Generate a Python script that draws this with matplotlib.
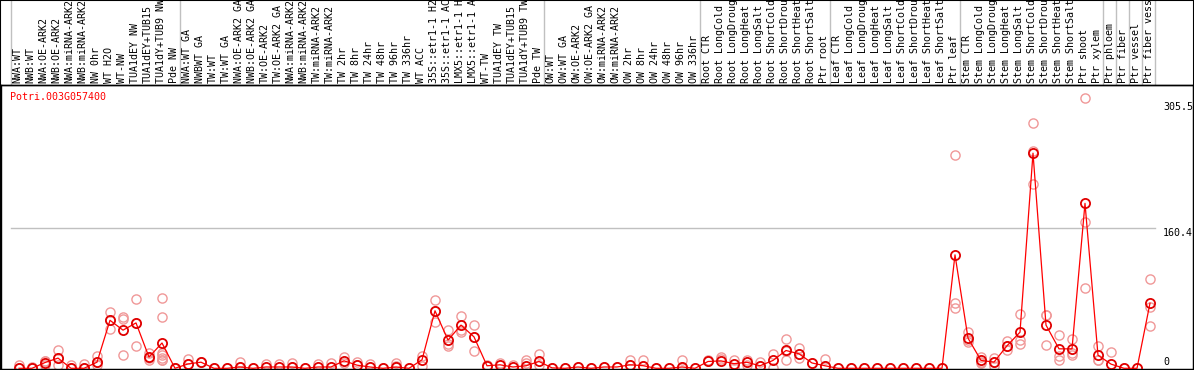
import matplotlib
matplotlib.use("Agg")
import matplotlib.pyplot as plt
import matplotlib.transforms as mtransforms
from matplotlib.lines import Line2D
from matplotlib.patches import Rectangle

gene = "Potri.003G057400"

categories = [
    "NWA:WT", "NWB:WT", "NWA:OE-ARK2", "NWB:OE-ARK2", "NWA:miRNA-ARK2", "NWB:miRNA-ARK2",
    "NW 0hr", "WT H2O", "WT-NW", "TUA1dEY NW", "TUA1dEY+TUB15", "TUA1dY+TUB9 NW", "Pde NW",
    "NWA:WT GA", "NWBWT GA", "TW:WT", "TW:WT GA", "NWA:OE-ARK2 GA", "NWB:OE-ARK2 GA",
    "TW:OE-ARK2", "TW:OE-ARK2 GA", "NWA:miRNA-ARK2", "NWB:miRNA-ARK2", "TW:miRNA-ARK2",
    "TW:miRNA-ARK2", "TW 2hr", "TW 8hr", "TW 24hr", "TW 48hr", "TW 96hr", "TW 336hr",
    "WT ACC", "35S::etr1-1 H2", "35S::etr1-1 AC", "LMX5::etr1-1 H", "LMX5::etr1-1 A",
    "WT-TW", "TUA1dEY TW", "TUA1dEY+TUB15", "TUA1dY+TUB9 TW", "Pde TW",
    "OW:WT", "OW:WT GA", "OW:OE-ARK2", "OW:OE-ARK2 GA", "OW:miRNA-ARK2", "OW:miRNA-ARK2",
    "OW 2hr", "OW 8hr", "OW 24hr", "OW 48hr", "OW 96hr", "OW 336hr",
    "Root CTR", "Root LongCold", "Root LongDroug", "Root LongHeat", "Root LongSalt",
    "Root ShortCold", "Root ShortDrou", "Root ShortHeat", "Root ShortSalt", "Ptr root",
    "Leaf CTR", "Leaf LongCold", "Leaf LongDroug", "Leaf LongHeat", "Leaf LongSalt",
    "Leaf ShortCold", "Leaf ShortDrou", "Leaf ShortHeat", "Leaf ShortSalt", "Ptr leaf",
    "Stem CTR", "Stem LongCold", "Stem LongDroug", "Stem LongHeat", "Stem LongSalt",
    "Stem ShortCold", "Stem ShortDrou", "Stem ShortHeat", "Stem ShortSalt", "Ptr shoot",
    "Ptr xylem", "Ptr phloem", "Ptr fiber", "Ptr vessel", "Ptr fiber vess",
]

# sizes of the sample groups (separated by grey lines)
group_sizes = [13, 28, 12, 10, 10, 11, 1, 1, 1, 1]

means = [
    0, 0, 6.6, 11.7, 0, 0, 7, 55, 43.7, 52, 12.8, 29, 0,
    5, 7, 0, 0, 1.5, 0, 1.5, 1.5, 1.5, 0, 1.5, 1.5, 8.6, 3.6, 1.5, 0, 1.5, 0,
    9.7, 65.9, 32.3, 49.5, 36, 2.9, 4, 1.5, 2.9, 7.8,
    0.5, 0, 1.5, 0, 1.5, 1.5, 4, 3, 0, 0, 1.5, 0,
    7.8, 8.5, 5.3, 6.9, 2.9, 9, 20.4, 16.6, 6.1, 2.9,
    0, 0, 0, 0, 0, 0, 0, 0, 0, 130,
    34.6, 9, 7.1, 25.8, 41.4, 246.5, 49.5, 22.3, 22.3, 189, 15,
    4.8, 0, 0, 74.6,
]

replicates = [
    [4, 0], [1, 0], [7.8, 4, 8], [21, 4, 12], [4, 0], [4.5, 0], [14, 7, 4],
    [64, 44.5, 55], [59, 57, 15], [79.6, 25.8, 52], [18, 9.7, 12],
    [80.4, 59, 18, 15, 12, 10, 9], [0, 0],
    [11, 5], [7, 7], [0], [0], [6.9, 1.5], [0], [4.5], [4.5], [6, 1.5], [0],
    [4.6], [6], [13.5, 6], [7, 3.6], [4.5], [0], [6, 2.9], [0],
    [14, 2.9], [78.5, 53, 66], [44, 28, 26], [60, 44, 42], [49.8, 20, 36],
    [4], [6], [4], [9.7, 6], [16.6, 4],
    [0], [0], [1.5], [0], [1.5], [1.5], [9, 4], [9.7, 3], [0], [0], [9, 1.5], [0],
    [9, 7.8], [12.8, 10.5], [9.7, 0.5], [9, 4], [6.9, 2.9], [16.6, 0],
    [33.4, 9.7, 20], [23, 12, 16], [6.1], [10.5, 2.9],
    [0], [0], [0], [0], [0], [0], [0], [0], [0], [244, 75, 69],
    [41.8, 32, 30], [13.5, 7.5, 6], [11.7, 6.7, 2.9], [31.5, 25.5, 20.4],
    [62, 32.6, 28], [280.8, 249, 211], [61, 61, 26.5], [38, 14.3, 9.7],
    [33.4, 18, 15.5], [309.5, 168, 91.8], [25.8, 9.7, 9.5],
    [18.9], [0], [0], [102, 47.9, 70.8],
]

y_ticks = [0, 160.4, 305.5]
y_gridlines = [160.4]

# ---------------------------------------------------------------- figure
W, H = 1194, 370
fig = plt.figure(figsize=(W / 100, H / 100), dpi=100)
fig.patch.set_facecolor("white")

def fx(px):
    return px / W

def fy(py):
    return 1 - py / H

ax_top_px, ax_bot_px = 85, 369
ax = fig.add_axes([fx(1), fy(ax_bot_px), fx(1192), (ax_bot_px - ax_top_px) / H])
x0_px, step_px = 19, 13
ax.set_xlim((1 - x0_px) / step_px, (1193 - x0_px) / step_px)
zero_px, scale = 368.3, 0.8728
ax.set_ylim((zero_px - ax_bot_px) / scale, (zero_px - ax_top_px) / scale)
ax.set_xticks([])
ax.set_yticks([])
for s in ax.spines.values():
    s.set_color("black")
    s.set_linewidth(1.0)

mono = "DejaVu Sans Mono"
fs = 7.2

# group separators
bounds = [-0.5]
acc = 0
for g in group_sizes:
    acc += g
    bounds.append(acc - 0.5)
blend_xd = mtransforms.blended_transform_factory(ax.transData, fig.transFigure)
for b in bounds:
    fig.add_artist(Line2D([b - 0.08, b - 0.08], [0, 1], transform=blend_xd,
                          color="#c0c0c0", lw=1.0, zorder=0))

# horizontal gridlines
for g in y_gridlines:
    ax.plot([bounds[0] - 0.08, bounds[-1] - 0.08], [g, g], color="#c0c0c0",
            lw=1.0, zorder=1)

ms = 6.6
pink = "#f09898"

rx, ry = [], []
for i, reps in enumerate(replicates):
    for v in reps:
        rx.append(i)
        ry.append(v)
ax.plot(rx, ry, linestyle="none", marker="o", markersize=ms,
        markerfacecolor="none", markeredgecolor=pink, markeredgewidth=1.0,
        clip_on=False, zorder=2)

xs = list(range(len(categories)))
ax.plot(xs, means, color="#ff0000", lw=0.9, clip_on=False, zorder=3)
ax.plot(xs, means, linestyle="none", marker="o", markersize=ms,
        markerfacecolor="none", markeredgecolor="#e00000", markeredgewidth=1.3,
        clip_on=False, zorder=4)

# header labels
for i, lab in enumerate(categories):
    fig.text(i - 0.1, fy(83), lab, transform=blend_xd,
             rotation=90, ha="center", va="bottom", fontsize=fs, family=mono,
             color="black")

# title
fig.text(fx(10), fy(97), gene, color="#ff0000", fontsize=fs, family=mono,
         ha="left", va="center")

# y tick labels
blend_fy = mtransforms.blended_transform_factory(fig.transFigure, ax.transData)
for v in y_ticks:
    if v == 0:
        ax.text(fx(1163), 1.5, "0", transform=blend_fy, ha="left", va="bottom",
                fontsize=fs, family=mono)
    else:
        ax.text(fx(1163), v, f"{v:g}", transform=blend_fy, ha="left", va="top",
                fontsize=fs, family=mono)

# figure border and header separator
fig.add_artist(Rectangle((0, 0), 1, 1, transform=fig.transFigure, fill=False,
                         edgecolor="black", lw=1.5))
fig.add_artist(Line2D([0, 1], [fy(85), fy(85)], transform=fig.transFigure,
                      color="black", lw=1.0))

fig.savefig("out.png", dpi=100)
